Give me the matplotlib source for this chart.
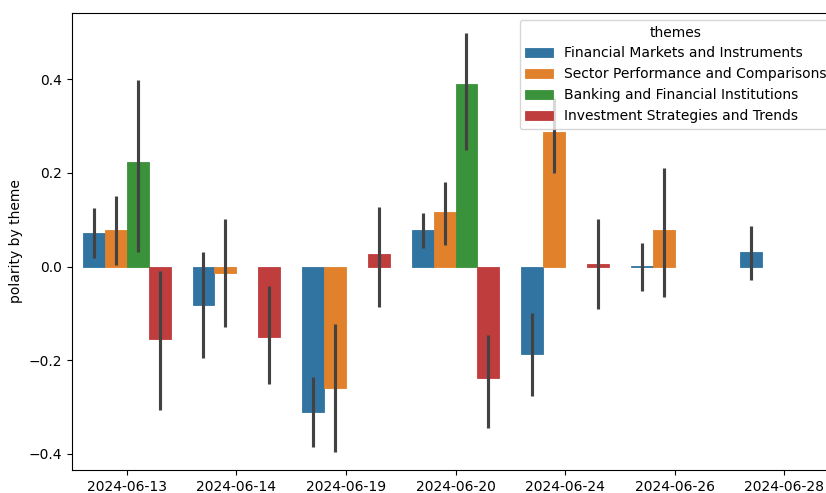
import numpy as np
import matplotlib
matplotlib.use("Agg")
import matplotlib.pyplot as plt

dates = ["2024-06-13", "2024-06-14", "2024-06-19", "2024-06-20",
         "2024-06-24", "2024-06-26", "2024-06-28"]
themes = ["Financial Markets and Instruments",
          "Sector Performance and Comparisons",
          "Banking and Financial Institutions",
          "Investment Strategies and Trends"]
nan = np.nan

# mean polarity per date for each theme
financial_markets = [0.072, -0.082, -0.311, 0.079, -0.186, 0.002, 0.032]
sector_performance = [0.079, -0.014, -0.259, 0.117, 0.288, 0.079, nan]
banking = [0.223, nan, nan, 0.390, nan, nan, nan]
investment = [-0.156, -0.150, 0.026, -0.238, 0.006, nan, nan]

# confidence interval bounds (low, high)
financial_markets_ci_low = [0.018, -0.196, -0.385, 0.039, -0.276, -0.052, -0.029]
financial_markets_ci_high = [0.125, 0.030, -0.236, 0.114, -0.100, 0.051, 0.087]
sector_performance_ci_low = [0.003, -0.129, -0.396, 0.046, 0.201, -0.065, nan]
sector_performance_ci_high = [0.150, 0.102, -0.122, 0.181, 0.360, 0.210, nan]
banking_ci_low = [0.030, nan, nan, 0.249, nan, nan, nan]
banking_ci_high = [0.399, nan, nan, 0.500, nan, nan, nan]
investment_ci_low = [-0.307, -0.251, -0.086, -0.346, -0.091, nan, nan]
investment_ci_high = [-0.010, -0.042, 0.127, -0.147, 0.102, nan, nan]

series = [financial_markets, sector_performance, banking, investment]
ci_low = [financial_markets_ci_low, sector_performance_ci_low,
          banking_ci_low, investment_ci_low]
ci_high = [financial_markets_ci_high, sector_performance_ci_high,
           banking_ci_high, investment_ci_high]
colors = ["#3274a1", "#e1812c", "#3a923a", "#c03d3e"]

W, H = 826, 493
fig = plt.figure(figsize=(W / 100, H / 100), dpi=100)
ax = fig.add_axes([72 / W, (H - 470) / H, (839 - 72) / W, (470 - 13) / H])

x = np.arange(len(dates))
n = len(themes)
width = 0.8 / n
for i, (vals, lo, hi, c, name) in enumerate(zip(series, ci_low, ci_high, colors, themes)):
    pos = x - 0.4 + width * (i + 0.5)
    vals = np.array(vals, dtype=float)
    mask = ~np.isnan(vals)
    ax.bar(pos[mask], vals[mask], width=width, color=c, label=name,
           edgecolor=c, linewidth=0.6)
    lo = np.array(lo, dtype=float)
    hi = np.array(hi, dtype=float)
    m2 = ~np.isnan(lo)
    ax.vlines(pos[m2], lo[m2], hi[m2], color="#424242", linewidth=2.25, zorder=3)

ax.set_xticks(x)
ax.set_xticklabels(dates)
ax.set_xlim(-0.5, len(dates) - 0.5)
ax.set_ylim(-0.435, 0.542)
ax.set_yticks([-0.4, -0.2, 0.0, 0.2, 0.4])
ax.set_ylabel("polarity by theme")
ax.legend(title="themes", loc="upper right")

fig.savefig("out.png", dpi=100)
